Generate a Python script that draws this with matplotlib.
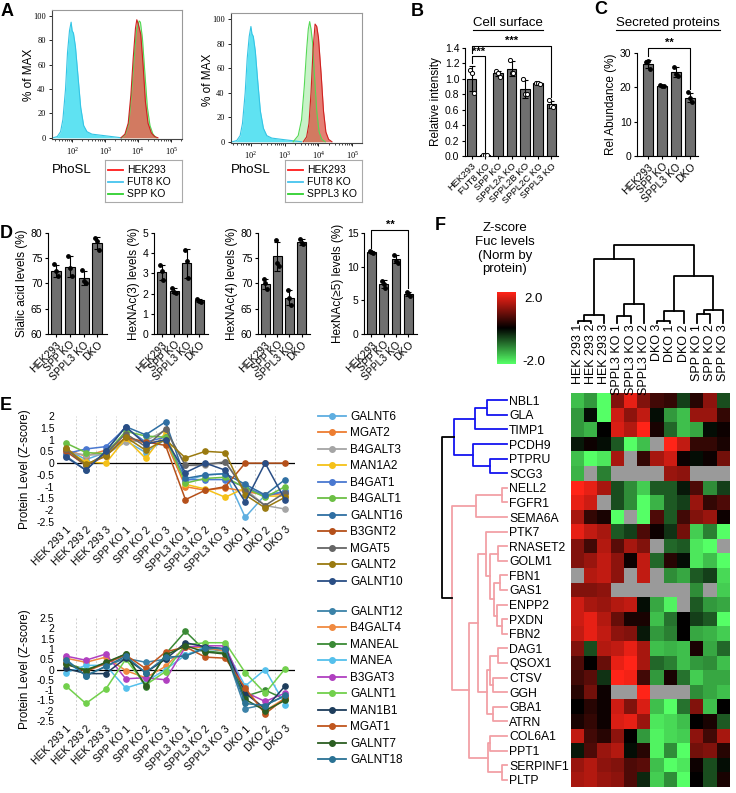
import matplotlib.pyplot as plt
import numpy as np
from matplotlib.colors import LinearSegmentedColormap
from matplotlib.lines import Line2D
import matplotlib.transforms as mtransforms

plt.rcParams['font.family'] = ['Liberation Sans', 'DejaVu Sans']
plt.rcParams['mathtext.fontset'] = 'custom'
plt.rcParams['mathtext.rm'] = 'Liberation Serif'
plt.rcParams['axes.linewidth'] = 0.8

# ---------------- data ----------------
# A : flow cytometry histograms (log10 intensity, % of max)
a1_fut8_log = [1.42, 1.55, 1.65, 1.72, 1.8, 1.86, 1.92, 1.97, 2.0, 2.04, 2.1, 2.18, 2.26, 2.35, 2.45, 2.6, 2.9, 3.2, 3.5]
a1_fut8_pct = [0, 1, 5, 15, 40, 70, 88, 95, 88, 86, 75, 50, 25, 10, 5, 3, 2, 1, 0]
a1_spp_log = [3.5, 3.62, 3.72, 3.8, 3.88, 3.95, 4.03, 4.07, 4.13, 4.2, 4.28, 4.36, 4.45, 4.55]
a1_spp_pct = [0, 3, 12, 35, 65, 88, 96, 95, 82, 55, 25, 10, 3, 0]
a1_hek_log = [3.48, 3.6, 3.7, 3.78, 3.85, 3.92, 3.96, 4.0, 4.08, 4.15, 4.22, 4.3, 4.4, 4.5, 4.6]
a1_hek_pct = [0, 3, 12, 35, 65, 90, 97, 94, 85, 60, 30, 12, 4, 1, 0]

a2_fut8_log = [1.45, 1.58, 1.68, 1.75, 1.83, 1.89, 1.95, 2.0, 2.03, 2.07, 2.13, 2.2, 2.28, 2.37, 2.47, 2.62, 2.9, 3.2, 3.5]
a2_fut8_pct = [0, 1, 5, 15, 40, 68, 86, 94, 88, 86, 74, 50, 25, 11, 5, 3, 2, 1, 0]
a2_sppl3_log = [3.25, 3.4, 3.5, 3.58, 3.65, 3.7, 3.74, 3.78, 3.83, 3.88, 3.95, 4.02, 4.1, 4.2]
a2_sppl3_pct = [0, 5, 18, 45, 75, 92, 98, 92, 80, 55, 25, 8, 2, 0]
a2_hek_log = [3.55, 3.65, 3.72, 3.78, 3.84, 3.9, 3.95, 4.0, 4.08, 4.15, 4.22, 4.3, 4.4]
a2_hek_pct = [0, 4, 15, 40, 75, 96, 94, 85, 55, 25, 8, 2, 0]

# B : cell surface
b_labels = ['HEK293', 'FUT8 KO', 'SPP KO', 'SPPL2A KO', 'SPPL2B KO', 'SPPL2C KO', 'SPPL3 KO']
b_points = [[1.12, 1.07, 0.82], [0.01, 0.015, 0.01], [1.10, 1.08, 1.03], [1.25, 1.07, 1.08],
            [1.0, 0.81, 0.80], [0.94, 0.945, 0.935], [0.72, 0.65, 0.64]]

# C : secreted proteins
c_labels = ['HEK293', 'SPP KO', 'SPPL3 KO', 'DKO']
c_points = [[27.5, 27.6, 25.3], [20.7, 20.5, 20.4], [26.0, 24.0, 23.3], [18.5, 16.8, 15.8]]

# D : glycan features
d_labels = ['HEK293', 'SPP KO', 'SPPL3 KO', 'DKO']
d_ylabels = ['Sialic acid levels (%)', 'HexNAc(3) levels (%)', 'HexNAc(4) levels (%)', 'HexNAc(≥5) levels (%)']
d_sialic = [[73.8, 72.4, 71.4], [75.5, 73.0, 71.4], [72.7, 70.5, 70.1], [79.0, 78.4, 76.6]]
d_hexnac3 = [[3.4, 3.1, 2.65], [2.3, 2.1, 2.05], [4.15, 3.6, 2.75], [1.75, 1.65, 1.6]]
d_hexnac4 = [[70.8, 70.0, 68.9], [78.7, 74.0, 73.5], [68.7, 67.2, 65.7], [78.8, 78.0, 77.8]]
d_hexnac5 = [[12.3, 12.2, 12.1], [7.9, 7.5, 6.8], [11.8, 10.9, 10.6], [6.2, 5.9, 5.6]]

# E : protein levels (Z-score)
e_samples = ['HEK 293 1', 'HEK 293 2', 'HEK 293 3', 'SPP KO 1', 'SPP KO 2', 'SPP KO 3',
             'SPPL3 KO 1', 'SPPL3 KO 2', 'SPPL3 KO 3', 'DKO 1', 'DKO 2', 'DKO 3']
e_top_genes = ['GALNT6', 'MGAT2', 'B4GALT3', 'MAN1A2', 'B4GAT1', 'B4GALT1', 'GALNT16',
               'B3GNT2', 'MGAT5', 'GALNT2', 'GALNT10']
e_top_values = [
    [0.6, 0.15, 0.45, 0.95, 0.45, 1.0, -0.75, -0.5, -0.45, -2.3, -1.35, -1.2],
    [0.55, 0.3, 0.55, 1.05, 0.85, 0.95, -1.0, -1.15, -1.05, -1.2, -1.35, -1.3],
    [0.45, 0.35, 0.35, 0.9, 0.95, 1.4, -0.1, -0.1, 0.05, -1.1, -1.8, -1.95],
    [0.55, 0.05, 0.0, 1.05, 0.2, 1.3, -0.9, -1.1, -1.45, -1.05, -1.4, -1.4],
    [0.4, 0.6, 0.7, 1.5, 0.9, 1.1, -0.7, -0.7, -0.7, -1.0, -1.4, -1.2],
    [0.85, 0.45, 0.4, 1.35, 1.15, 1.1, -0.85, -0.65, -0.6, -1.05, -1.45, -1.0],
    [0.3, -0.3, 0.5, 1.55, 1.2, 1.75, -0.65, -0.5, -0.45, -0.9, -1.35, -0.7],
    [0.5, -0.1, 0.3, 1.1, 0.9, 0.75, -1.55, -1.15, -1.0, 0.0, 0.0, 0.0],
    [0.6, -0.1, 0.4, 1.25, 0.7, 1.45, -0.1, -0.05, 0.05, -1.2, -1.8, -1.25],
    [0.65, -0.05, 0.3, 1.1, 0.55, 1.0, 0.22, 0.5, 0.45, -1.35, -1.9, -1.45],
    [0.25, -0.3, 0.5, 1.55, 0.8, 1.0, -0.4, 0.0, -0.3, -1.65, 0.0, -1.55],
]
e_bot_genes = ['GALNT12', 'B4GALT4', 'MANEAL', 'MANEA', 'B3GAT3', 'GALNT1', 'MAN1B1',
               'MGAT1', 'GALNT7', 'GALNT18']
e_bot_values = [
    [0.5, -0.3, 0.15, 0.55, 0.35, 0.5, 0.7, 1.0, 0.9, -1.9, -1.7, -1.3],
    [0.55, 0.35, 0.6, -0.05, -0.4, 0.15, 1.1, 1.05, 0.9, -1.0, -2.0, -1.4],
    [0.3, 0.0, 0.3, 0.75, -0.85, 0.75, 1.85, 0.9, 0.8, -1.3, -1.0, -1.45],
    [-0.15, 0.2, 0.2, -0.9, -0.6, 0.0, 0.7, 1.1, 1.0, -0.8, 0.0, -1.7],
    [0.65, 0.45, 0.75, -0.45, -0.4, -0.5, 1.1, 1.15, 1.15, -1.1, -1.55, -1.15],
    [-0.8, -1.65, -0.95, 0.5, -0.75, -0.1, 1.2, 1.3, 1.3, -0.15, -1.15, 0.03],
    [0.05, -0.2, -0.2, 0.55, -0.15, 0.5, 1.3, 1.1, 1.0, -1.15, -1.9, -0.8],
    [0.3, -0.1, 0.3, 0.7, 0.05, 0.85, 1.1, 0.6, 0.55, -0.9, -2.15, -1.4],
    [0.25, -0.05, 0.35, 0.75, -0.8, 0.7, 1.15, 0.85, 0.75, -1.45, -2.0, -1.5],
    [0.45, -0.3, 0.15, 0.65, -0.15, 0.6, 0.65, 1.05, 1.0, -1.65, -1.75, -1.25],
]
e_top_colors = ['#5eaee0', '#ed7d31', '#a5a5a5', '#f5c118', '#4a78d0', '#6cbf45', '#2f6fa3',
                '#b5501a', '#666666', '#9a7a10', '#2a4e85']
e_bot_colors = ['#3b82a8', '#f08a40', '#3a8a35', '#55c0ec', '#b040c0', '#72d04c', '#1e3d5c',
                '#c0561e', '#2c5e22', '#2a7294']

# F : heatmap
nan = np.nan
f_cols = ['HEK 293 1', 'HEK 293 2', 'HEK 293 3', 'SPPL3 KO 1', 'SPPL3 KO 3', 'SPPL3 KO 2',
          'DKO 3', 'DKO 1', 'DKO 2', 'SPP KO 1', 'SPP KO 2', 'SPP KO 3']
f_rows = ['NBL1', 'GLA', 'TIMP1', 'PCDH9', 'PTPRU', 'SCG3', 'NELL2', 'FGFR1', 'SEMA6A', 'PTK7',
          'RNASET2', 'GOLM1', 'FBN1', 'GAS1', 'ENPP2', 'PXDN', 'FBN2', 'DAG1', 'QSOX1', 'CTSV',
          'GGH', 'GBA1', 'ATRN', 'COL6A1', 'PPT1', 'SERPINF1', 'PLTP']
f_values = [
    [-1.5, -1.2, -2.0, 1.0, 1.8, 1.0, 0.5, 0.4, -0.5, 0.3, 1.1, -0.6],
    [-1.2, -0.1, -2.0, 1.6, 1.1, 1.5, -0.1, -1.2, -1.5, 1.2, 1.2, 0.4],
    [-1.2, -1.4, 0.0, 1.7, 1.4, 2.0, 0.2, -0.8, -1.5, -1.3, -0.1, 0.1],
    [-0.2, 0.1, -0.1, -0.7, -2.0, -1.5, nan, 2.0, 1.5, 0.4, 0.4, 0.2],
    [-1.5, -2.0, -1.8, 1.3, nan, 0.4, 1.3, 1.6, 0.1, -0.1, 0.1, 0.9],
    [-1.4, nan, -1.0, nan, nan, nan, nan, 1.2, 1.1, nan, nan, nan],
    [2.0, 1.8, 1.3, -0.6, -1.1, -1.6, -0.7, -0.7, -0.2, 0.6, -1.1, -0.5],
    [1.8, 1.6, nan, -0.6, -1.1, -2.0, -1.4, -0.7, -0.5, 1.2, 0.4, 0.6],
    [1.3, 0.4, 0.2, -2.0, nan, -2.0, 0.6, -0.7, 0.5, 1.0, 1.2, 0.1],
    [1.8, 1.5, 1.3, -0.7, -0.5, 0.6, 0.1, -0.4, 0.9, -1.6, -1.0, -2.0],
    [1.0, 0.5, 1.4, 0.7, 1.3, 1.0, nan, -0.8, -0.7, -1.8, -2.0, nan],
    [1.0, 1.2, 1.5, 1.1, 0.1, 1.5, -0.8, 0.3, -0.1, -1.8, -1.5, -2.0],
    [nan, 1.4, 1.5, 1.1, nan, 1.5, nan, -1.1, -1.3, -0.7, -0.5, -1.7],
    [1.0, 1.0, 1.1, nan, nan, nan, nan, nan, nan, -1.1, nan, -1.6],
    [1.6, 1.3, 1.2, 1.4, 1.5, -0.1, -1.3, -1.9, nan, -0.7, -1.2, -1.3],
    [1.6, 1.8, 1.4, 0.8, 0.2, 0.2, -1.5, -0.9, 0.0, -0.5, -0.7, -2.0],
    [1.5, 1.8, 1.5, 1.1, 1.0, -0.2, -1.2, -1.0, 0.0, -1.3, -1.4, -1.6],
    [1.0, -0.6, 1.4, 1.5, 1.8, 1.3, -1.5, -1.4, -1.5, 0.2, -1.3, -0.8],
    [0.6, 0.0, 0.8, 1.8, 2.0, 1.3, -0.8, -1.0, -1.5, -1.2, -1.1, -1.5],
    [0.5, 0.7, -0.4, 2.0, 1.9, 0.5, -1.2, 0.2, -0.9, -1.6, -1.3, -1.3],
    [0.3, 0.9, 0.1, nan, nan, 2.0, nan, nan, nan, -1.1, -1.3, -1.5],
    [0.0, 0.3, 0.1, 1.6, 1.0, 1.7, -1.5, -2.0, -0.9, 1.0, -1.5, 0.0],
    [0.2, 0.4, 0.1, 1.7, 1.8, 1.2, -1.8, -1.7, -1.5, 0.0, 0.2, -0.7],
    [1.5, 0.5, 0.3, 1.1, 0.0, -1.2, -1.9, -1.7, -1.6, 1.1, 0.5, 1.3],
    [-0.2, 0.6, 1.2, 1.4, -0.1, 0.3, -1.9, -1.1, -2.0, 0.9, 1.0, 0.3],
    [1.2, 1.4, 1.1, 1.0, 0.6, 0.7, -1.5, -2.0, -1.8, 0.1, -0.6, -0.1],
    [1.3, 1.4, 1.2, 1.1, 0.6, -0.3, -1.6, -1.1, -2.0, 0.0, -0.6, 0.2],
]

# dendrograms: (height, left, right, colour)
BLUE, PINK, BLK = '#1414f0', '#f2a0a6', 'black'
row_tree = (65,
            (53, (32, (20, 'NBL1', 'GLA', BLUE), 'TIMP1', BLUE),
             (34, 'PCDH9', (17, 'PTPRU', 'SCG3', BLUE), BLUE), BLUE),
            (55, (31, (5, 'NELL2', 'FGFR1', PINK), 'SEMA6A', PINK),
             (38, (29, (21, 'PTK7',
                        (17, (9, 'RNASET2', 'GOLM1', PINK),
                         (13, (7, 'FBN1', 'GAS1', PINK),
                          (10, 'ENPP2', (5, 'PXDN', 'FBN2', PINK), PINK), PINK), PINK), PINK),
                   (20, (17, (9, 'DAG1', 'QSOX1', PINK), (14, 'CTSV', 'GGH', PINK), PINK),
                    (14, 'GBA1', 'ATRN', PINK), PINK), PINK),
              (19, (17, 'COL6A1', 'PPT1', PINK), (5, 'SERPINF1', 'PLTP', PINK), PINK), PINK), PINK),
            BLK)
col_tree = (235,
            (192, (23, (5, 'HEK 293 1', 'HEK 293 2', BLK), 'HEK 293 3', BLK),
             (57, (20, 'SPPL3 KO 1', 'SPPL3 KO 3', BLK), 'SPPL3 KO 2', BLK), BLK),
            (142, (35, (7, 'DKO 3', 'DKO 1', BLK), 'DKO 2', BLK),
             (38, (28, 'SPP KO 1', 'SPP KO 2', BLK), 'SPP KO 3', BLK), BLK),
            BLK)

# ---------------- layout helpers ----------------
W, H = 736, 793
fig = plt.figure(figsize=(W / 100, H / 100), dpi=100)


def px_axes(x0, y0, x1, y1):
    return fig.add_axes([x0 / W, 1 - y1 / H, (x1 - x0) / W, (y1 - y0) / H])


def fig_text(x, y, s, **kw):
    return fig.text(x / W, 1 - y / H, s, **kw)


for letter, (x, y) in {'A': (7, 11), 'B': (417, 11), 'C': (601, 10), 'D': (6, 233),
                       'E': (6, 406), 'F': (440, 226)}.items():
    fig_text(x, y, letter, fontsize=13, fontweight='bold', ha='center', va='center')

# ---------------- A ----------------
GRID_SERIF = 'Liberation Serif'


def flow_panel(ax, cyan, green, red, xlim):
    for (lx, py), fc, ec, alpha in [(cyan, '#5fe2f2', '#35c5e5', 1.0),
                                    (green, '#86e486', '#55d855', 0.45),
                                    (red, '#d83a2a', '#d02020', 0.65)]:
        xs = 10 ** np.array(lx)
        ax.fill_between(xs, 0, py, color=fc, alpha=alpha, lw=0)
        ax.plot(xs, py, color=ec, lw=0.8)
    ax.set_xscale('log')
    ax.set_xlim(10 ** xlim[0], 10 ** xlim[1])
    ax.set_ylim(-1, 105)
    ax.set_xticks([1e2, 1e3, 1e4, 1e5])
    ax.set_xticklabels(['$10^2$', '$10^3$', '$10^4$', '$10^5$'])
    ax.set_yticks(range(0, 101, 20))
    ax.set_yticklabels([str(v) for v in range(0, 101, 20)], fontfamily=GRID_SERIF)
    ax.tick_params(labelsize=6, length=2.5, width=0.6, pad=2)
    ax.tick_params(which='minor', length=1.5, width=0.5)
    for s in ['top', 'right']:
        ax.spines[s].set_color('#999999')
    for s in ['left', 'bottom']:
        ax.spines[s].set_color('#444444')


axA1 = px_axes(52, 10, 182, 139)
flow_panel(axA1, (a1_fut8_log, a1_fut8_pct), (a1_spp_log, a1_spp_pct), (a1_hek_log, a1_hek_pct), (1.39, 5.33))
axA2 = px_axes(231, 13, 362, 143)
flow_panel(axA2, (a2_fut8_log, a2_fut8_pct), (a2_sppl3_log, a2_sppl3_pct), (a2_hek_log, a2_hek_pct), (1.41, 5.29))
fig_text(29, 75, '% of MAX', rotation=90, ha='center', va='center', fontsize=8.5)
fig_text(208, 80, '% of MAX', rotation=90, ha='center', va='center', fontsize=8.5)
fig_text(72, 170, 'PhoSL', ha='center', va='center', fontsize=9.5)
fig_text(251, 170, 'PhoSL', ha='center', va='center', fontsize=9.5)

for (x0, x1), names in [((105, 182), ['HEK293', 'FUT8 KO', 'SPP KO']),
                        ((285, 362), ['HEK293', 'FUT8 KO', 'SPPL3 KO'])]:
    lax = px_axes(x0, 160, x1, 202)
    lax.set_xlim(0, 1)
    lax.set_ylim(0, 1)
    lax.set_xticks([])
    lax.set_yticks([])
    for s in lax.spines.values():
        s.set_color('#aaaaaa')
    for name, col, yy in zip(names, ['#ff1a1a', '#45c4ee', '#2ed02e'], [0.77, 0.48, 0.19]):
        lax.plot([0.04, 0.23], [yy, yy], color=col, lw=1.3)
        lax.text(0.29, yy, name, fontsize=7.5, va='center')

# ---------------- bar helpers ----------------
BAR_GRAY = '#6f6f6f'


def bar_panel(ax, labels, points, filled=True, xfont=7.5):
    x = np.arange(len(points))
    means = [np.mean(p) for p in points]
    sds = [np.std(p, ddof=1) for p in points]
    ax.bar(x, means, width=0.72, color=BAR_GRAY, edgecolor='black', lw=0.8, zorder=2)
    ax.errorbar(x, means, yerr=sds, fmt='none', ecolor='black', elinewidth=0.8, capsize=2,
                capthick=0.8, zorder=3)
    for i, p in enumerate(points):
        offs = np.linspace(-0.14, 0.14, len(p))
        if filled:
            ax.scatter(i + offs, p, s=6, color='black', zorder=4)
        else:
            ax.scatter(i + offs, p, s=9, facecolor='white', edgecolor='black', lw=0.7, zorder=4)
    ax.set_xticks(x)
    ax.set_xticklabels(labels, rotation=45, ha='right', rotation_mode='anchor', fontsize=xfont)
    ax.tick_params(axis='y', labelsize=7.5, length=2.5, width=0.8, pad=1.5)
    ax.tick_params(axis='x', length=2.5, width=0.8, pad=1.5)
    ax.spines['top'].set_visible(False)
    ax.spines['right'].set_visible(False)


def bracket(ax, x0, x1, y, y0_end, y1_end, stars):
    ax.plot([x0, x0, x1, x1], [y0_end, y, y, y1_end], color='black', lw=0.8, clip_on=False)
    ax.text((x0 + x1) / 2, y, stars, ha='center', va='bottom', fontsize=8, fontweight='bold')


def underlined_title(x, y, s):
    t = fig_text(x, y, s, ha='center', va='center', fontsize=9.5)
    fig.canvas.draw()
    bb = t.get_window_extent()
    fig.add_artist(Line2D([bb.x0 / W, bb.x1 / W], [(bb.y0 - 0.5) / H] * 2,
                          transform=fig.transFigure, color='black', lw=0.8))


# ---------------- B ----------------
axB = px_axes(465, 48, 558, 156)
bar_panel(axB, b_labels, b_points, filled=False, xfont=6.8)
axB.set_xlim(-0.5, 6.5)
axB.set_ylim(0, 1.4)
axB.set_yticks(np.arange(0, 1.41, 0.2))
axB.set_yticklabels([f'{v:.1f}' for v in np.arange(0, 1.41, 0.2)])
axB.set_ylabel('Relative intensity', fontsize=8.5, labelpad=2)
bracket(axB, 0, 1, 1.29, 1.21, 0.05, '***')
bracket(axB, 0, 6, 1.43, 1.33, 0.76, '***')
underlined_title(508, 23, 'Cell surface')

# ---------------- C ----------------
axC = px_axes(637, 53, 698, 156)
bar_panel(axC, c_labels, c_points, filled=True)
axC.set_xlim(-0.78, 3.55)
axC.set_ylim(0, 30)
axC.set_yticks([0, 10, 20, 30])
axC.set_ylabel('Rel Abundance (%)', fontsize=8.5, labelpad=2)
bracket(axC, 0, 3, 31.6, 29.0, 19.5, '**')
underlined_title(668, 23, 'Secreted proteins')

# ---------------- D ----------------
d_sets = [d_sialic, d_hexnac3, d_hexnac4, d_hexnac5]
d_boxes = [(48, 107), (154, 208), (258, 310), (364, 417)]
d_limits = [(60, 80, 5), (0, 5, 1), (60, 80, 5), (0, 15, 5)]
for pts, (x0, x1), (lo, hi, st), ylab in zip(d_sets, d_boxes, d_limits, d_ylabels):
    ax = px_axes(x0, 233, x1, 334)
    bar_panel(ax, d_labels, pts, filled=True)
    ax.set_xlim(-0.6, 3.7)
    ax.set_ylim(lo, hi)
    ax.set_yticks(np.arange(lo, hi + 0.1, st))
    ax.set_ylabel(ylab, fontsize=8.5, labelpad=2)
    if ylab.startswith('HexNAc(≥5)'):
        bracket(ax, 0, 3, 15.4, 12.7, 6.8, '**')

# ---------------- E ----------------


def line_panel(ax, values, colors, ylim, yticks):
    x = np.arange(len(e_samples))
    for i in range(len(e_samples)):
        ax.axvline(i + 0.5, color='#cfcfcf', ls=(0, (2, 2)), lw=0.7, zorder=0)
    ax.axhline(0, color='black', lw=0.9, zorder=1)
    for vals, col in zip(values, colors):
        ax.plot(x, vals, '-o', color=col, lw=1.1, ms=3.8, zorder=3)
    ax.set_xlim(-0.45, 11.5)
    ax.set_ylim(*ylim)
    ax.set_yticks(yticks)
    ax.set_yticklabels([f'{v:g}' for v in yticks])
    ax.set_xticks(x)
    ax.set_xticklabels(e_samples, rotation=45, ha='right', rotation_mode='anchor', fontsize=7.5)
    ax.tick_params(length=0, labelsize=7.5, pad=2)
    for s in ax.spines.values():
        s.set_visible(False)
    ax.set_ylabel('Protein Level (Z-score)', fontsize=8.5, labelpad=4)


axE1 = px_axes(57, 416, 295, 522)
line_panel(axE1, e_top_values, e_top_colors, (-2.5, 2), np.arange(2, -2.51, -0.5))
axE2 = px_axes(57, 618, 295, 721)
line_panel(axE2, e_bot_values, e_bot_colors, (-2.5, 2.5), np.arange(2.5, -2.51, -0.5))

for genes, cols, top in [(e_top_genes, e_top_colors, 411), (e_bot_genes, e_bot_colors, 606)]:
    handles = [Line2D([], [], color=c, marker='o', lw=1.3, ms=4) for c in cols]
    fig.legend(handles, genes, loc='upper left', bbox_to_anchor=(318 / W, 1 - top / H),
               frameon=False, fontsize=8.5, labelspacing=0.38, handlelength=2.4,
               handletextpad=0.35, borderaxespad=0, borderpad=0)

# ---------------- F ----------------
hm_cmap = LinearSegmentedColormap.from_list('gbr', ['#55ff66', '#000000', '#ff2418'])
hm_cmap.set_bad('#9a9a9a')

axH = px_axes(571, 393, 730, 787)
axH.imshow(np.ma.masked_invalid(np.array(f_values)), cmap=hm_cmap, vmin=-2, vmax=2,
           aspect='auto', interpolation='nearest')
axH.set_xticks([])
axH.set_yticks(range(len(f_rows)))
axH.set_yticklabels(f_rows, ha='left', fontsize=8.8)
axH.tick_params(axis='y', length=0, pad=62 * 0.72)
for s in axH.spines.values():
    s.set_visible(False)

col_tf = mtransforms.blended_transform_factory(axH.transData, fig.transFigure)
for j, name in enumerate(f_cols):
    axH.text(j, 1 - 324 / H, name, transform=col_tf, rotation=90, ha='center', va='top',
             fontsize=9)


def draw_dendro(ax, node, pos, horizontal):
    if isinstance(node, str):
        return pos[node], 0.0
    h, left, right, color = node
    pl, hl = draw_dendro(ax, left, pos, horizontal)
    pr, hr = draw_dendro(ax, right, pos, horizontal)
    hs, ps = [hl, h, h, hr], [pl, pl, pr, pr]
    if horizontal:
        ax.plot(hs, ps, color=color, lw=1.3, clip_on=False)
    else:
        ax.plot(ps, hs, color=color, lw=1.3, clip_on=False)
    return (pl + pr) / 2, h


axR = px_axes(442, 393, 507, 787)
draw_dendro(axR, row_tree, {n: i for i, n in enumerate(f_rows)}, True)
axR.set_xlim(65, 0)
axR.set_ylim(len(f_rows) - 0.5, -0.5)
axR.axis('off')

axT = px_axes(571, 245, 730, 323)
draw_dendro(axT, col_tree, {n: j for j, n in enumerate(f_cols)}, False)
axT.set_xlim(-0.5, len(f_cols) - 0.5)
axT.set_ylim(0, 235)
axT.axis('off')

fig_text(505, 222, 'Z-score\nFuc levels\n(Norm by\nprotein)', ha='center', va='top',
         fontsize=9.5, linespacing=1.2)
axCb = px_axes(497, 292, 516, 364)
axCb.imshow(np.linspace(2, -2, 100)[:, None], cmap=hm_cmap, vmin=-2, vmax=2, aspect='auto')
axCb.axis('off')
fig_text(524, 299, '2.0', ha='left', va='center', fontsize=9.5)
fig_text(522, 362, '-2.0', ha='left', va='center', fontsize=9.5)

fig.savefig('out.png', dpi=100)
